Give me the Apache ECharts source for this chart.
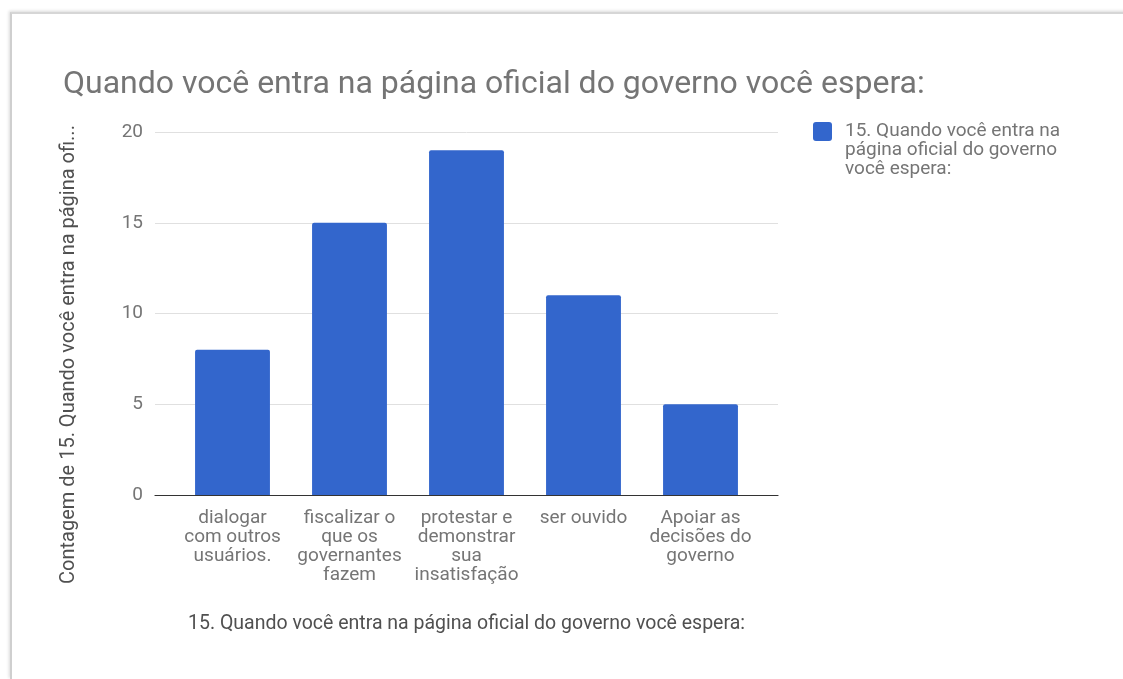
<!DOCTYPE html>
<html>
<head>
<meta charset="utf-8">
<script src="https://cdn.jsdelivr.net/npm/echarts@6/dist/echarts.min.js"></script>
<style>
  html, body { margin: 0; padding: 0; background: #fff; width: 1123px; height: 679px; overflow: hidden; }
  #card {
    position: absolute; left: 10px; top: 12px; width: 1200px; height: 665px;
    border-left: 2px solid #cfcfcf; border-top: 2px solid #d6d6d6;
    box-shadow: -1px -1px 3px rgba(0,0,0,0.15);
    background: #fff;
  }
  #chart { position: absolute; left: 0; top: 0; width: 1123px; height: 679px; }
</style>
</head>
<body>
<div id="card"></div>
<div id="chart"></div>
<script>
const titleText = 'Quando você entra na página oficial do governo você espera:';
const seriesName = '15. Quando você entra na página oficial do governo você espera:';
const legendLabel = '15. Quando você entra na\npágina oficial do governo\nvocê espera:';
const yAxisTitle = 'Contagem de 15. Quando você entra na página ofi...';
const categories = [
  'dialogar\ncom outros\nusuários.',
  'fiscalizar o\nque os\ngovernantes\nfazem',
  'protestar e\ndemonstrar\nsua\ninsatisfação',
  'ser ouvido',
  'Apoiar as\ndecisões do\ngoverno'
];
const counts = [8, 15, 19, 11, 5];
const yTicks = [0, 5, 10, 15, 20];

const gray = '#757575';
const dark = '#505050';
const font = 'Roboto, "Noto Sans", sans-serif';
const yMin = yTicks[0];
const yMax = yTicks[yTicks.length - 1];
const yStep = yTicks[1] - yTicks[0];

const chart = echarts.init(document.getElementById('chart'), null, { renderer: 'canvas' });
chart.setOption({
  backgroundColor: 'transparent',
  animation: false,
  textStyle: { fontFamily: font },
  title: {
    text: titleText,
    left: 58, top: 64,
    textStyle: { fontFamily: font, fontSize: 32, fontWeight: 'normal', color: gray }
  },
  legend: {
    left: 813, top: 84,
    padding: 0,
    orient: 'vertical',
    itemWidth: 19, itemHeight: 19,
    // square swatch with softly rounded corners
    icon: 'path://M3,0H16Q19,0 19,3V16Q19,19 16,19H3Q0,19 0,16V3Q0,0 3,0Z',
    // two leading blank lines keep the first text line level with the swatch
    formatter: () => '\n\n' + legendLabel,
    textStyle: { fontFamily: font, fontSize: 19, color: gray, lineHeight: 19, padding: [0, 0, 0, 8] }
  },
  grid: [
    // full-width frame: gridlines and baseline
    { left: 155, right: 345, top: 132, bottom: 184, containLabel: false },
    // inset band where the bars and category labels sit
    { left: 174, right: 364, top: 132, bottom: 184, containLabel: false }
  ],
  xAxis: [
    {
      gridIndex: 0, type: 'category', data: categories,
      axisLine: { lineStyle: { color: '#333', width: 1.2 } },
      axisTick: { show: false }, axisLabel: { show: false }
    },
    {
      gridIndex: 1, type: 'category', data: categories,
      name: seriesName,
      nameLocation: 'middle',
      nameGap: 119,
      nameTextStyle: { fontFamily: font, fontSize: 19.5, color: dark },
      axisLine: { show: false },
      axisTick: { show: false },
      axisLabel: { interval: 0, margin: 14, fontFamily: font, fontSize: 19, color: gray, lineHeight: 19 }
    }
  ],
  yAxis: [
    {
      gridIndex: 0, type: 'value',
      min: yMin, max: yMax, interval: yStep,
      name: yAxisTitle,
      nameLocation: 'middle',
      nameGap: 76,
      nameTextStyle: { fontFamily: font, fontSize: 20, color: dark, padding: [0, 82, 0, 0] },
      axisLine: { show: false },
      axisTick: { show: false },
      splitLine: { lineStyle: { color: '#e0e0e0', width: 1 } },
      axisLabel: { margin: 12, fontFamily: font, fontSize: 19, color: gray }
    },
    {
      gridIndex: 1, type: 'value',
      min: yMin, max: yMax, interval: yStep,
      show: false, splitLine: { show: false }
    }
  ],
  series: [{
    name: seriesName,
    type: 'bar',
    xAxisIndex: 1, yAxisIndex: 1,
    data: counts,
    barWidth: '64%',
    itemStyle: { color: '#3366cc', borderRadius: [2, 2, 0, 0] }
  }]
});
</script>
</body>
</html>
